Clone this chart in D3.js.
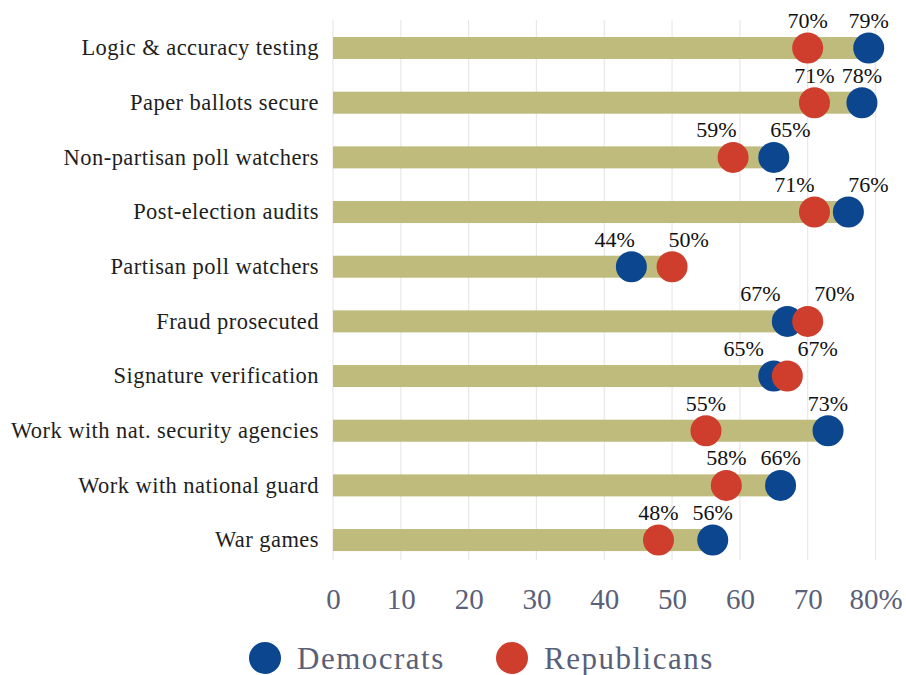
<!DOCTYPE html>
<html><head><meta charset="utf-8">
<script src="https://cdn.jsdelivr.net/npm/d3@7"></script>
<style>body{margin:0;background:#fff}</style></head>
<body><svg id="c" width="906" height="675"></svg>
<script>
const categories = ["Logic & accuracy testing","Paper ballots secure","Non-partisan poll watchers","Post-election audits","Partisan poll watchers","Fraud prosecuted","Signature verification","Work with nat. security agencies","Work with national guard","War games"];
const democrats = [79,78,65,76,44,67,65,73,66,56];
const republicans = [70,71,59,71,50,70,67,55,58,48];
const xTicks = [0,10,20,30,40,50,60,70,80];
const seriesNames = ["Democrats","Republicans"];

const colors = {dem:"#0b468e", rep:"#cf3e2d", bar:"#bfbb7c", grid:"#e8e8e8", axis:"#5a6078"};
const FONT = "'Liberation Serif', 'DejaVu Serif', serif";

const svg = d3.select("#c");
const x = d3.scaleLinear().domain([0,80]).range([333,875.5]);
const y = d3.scaleBand().domain(categories).range([20.7,567.4]);
const cy = c => y(c) + y.bandwidth()/2;

// gridlines
svg.append("g").selectAll("line").data(xTicks).join("line")
  .attr("x1", d=>x(d)).attr("x2", d=>x(d)).attr("y1", 20).attr("y2", 560)
  .attr("stroke", colors.grid).attr("stroke-width", 1.2);

// x-axis labels
const xAxis = d3.axisBottom(x).tickValues(xTicks).tickSize(0).tickPadding(0)
  .tickFormat(d => d === 80 ? "80%" : d);
const gx = svg.append("g").attr("transform","translate(0,589)").call(xAxis);
gx.select(".domain").remove();
gx.selectAll("text").attr("font-family", FONT).attr("font-size", 29).attr("fill", colors.axis).attr("dy","0.7em");

const rows = categories.map((c,i)=>({c, d:democrats[i], r:republicans[i]}));

// bars
svg.append("g").selectAll("rect").data(rows).join("rect")
  .attr("x", x(0)).attr("y", d=>cy(d.c)-11).attr("height", 22)
  .attr("width", d=>x(Math.max(d.d,d.r))-x(0)).attr("fill", colors.bar);

// category labels
svg.append("g").selectAll("text").data(rows).join("text")
  .attr("x", 319).attr("y", d=>cy(d.c)).attr("dy","0.33em")
  .attr("text-anchor","end").attr("font-family", FONT).attr("font-size", 22.5)
  .attr("letter-spacing", 0.45)
  .attr("fill","#1e1e1e").text(d=>d.c);

// dots
const R = 15.5;
svg.append("g").selectAll("circle").data(rows).join("circle")
  .attr("cx", d=>x(d.d)).attr("cy", d=>cy(d.c)).attr("r", R).attr("fill", colors.dem);
svg.append("g").selectAll("circle").data(rows).join("circle")
  .attr("cx", d=>x(d.r)).attr("cy", d=>cy(d.c)).attr("r", R).attr("fill", colors.rep);

// value labels with collision spreading
const lab = svg.append("g");
rows.forEach(d=>{
  let xd = x(d.d), xr = x(d.r);
  if (Math.abs(xd-xr) < 45) {
    const mid = (xd+xr)/2, h = 37;
    if (xd < xr) { xd = mid-h; xr = mid+h; } else { xr = mid-h; xd = mid+h; }
  }
  [[xd,d.d],[xr,d.r]].forEach(([px,v])=>{
    lab.append("text").attr("x", px).attr("y", cy(d.c)-20)
      .attr("text-anchor","middle").attr("font-family", FONT).attr("font-size", 22)
      .attr("fill","#111").text(v+"%");
  });
});

// legend
const leg = svg.append("g");
const legItems = [{n:seriesNames[0], c:colors.dem, x:265},{n:seriesNames[1], c:colors.rep, x:512}];
legItems.forEach(it=>{
  leg.append("circle").attr("cx", it.x).attr("cy", 658).attr("r", 16).attr("fill", it.c);
  leg.append("text").attr("x", it.x+32).attr("y", 658).attr("dy","0.35em")
    .attr("font-family", FONT).attr("font-size", 31).attr("letter-spacing", 1.5)
    .attr("fill", colors.axis).text(it.n);
});
</script>
</body></html>
